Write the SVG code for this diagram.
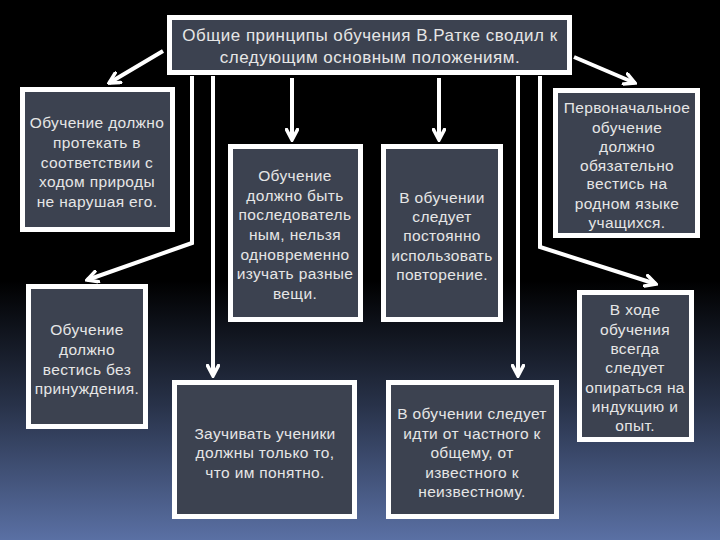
<svg xmlns="http://www.w3.org/2000/svg" width="720" height="540" viewBox="0 0 720 540">
<defs>
<linearGradient id="bg" x1="0" y1="0" x2="0" y2="1">
<stop offset="0" stop-color="#000000"/>
<stop offset="0.52" stop-color="#000000"/>
<stop offset="0.75" stop-color="#283249"/>
<stop offset="1" stop-color="#5a70a4"/>
</linearGradient>
<marker id="arr" viewBox="0 0 14 14" markerWidth="14" markerHeight="14" refX="12" refY="7" orient="auto" markerUnits="userSpaceOnUse">
<path d="M1.5,1.5 L12,7 L1.5,12.5" fill="none" stroke="#ffffff" stroke-width="3.5" stroke-linecap="round" stroke-linejoin="miter"/>
</marker>
<style>
.box{fill:#3c4250;stroke:#ffffff;stroke-width:5}
.t{font-family:"Liberation Sans",Arial,sans-serif;font-size:15.5px;letter-spacing:0.35px;fill:#e6e6e6;text-anchor:middle}
.tt{font-family:"Liberation Sans",Arial,sans-serif;font-size:17px;letter-spacing:0.5px;fill:#e6e6e6;text-anchor:middle}
.c{fill:none;stroke:#ffffff;stroke-width:4;marker-end:url(#arr)}
</style>
</defs>
<rect width="720" height="540" fill="url(#bg)"/>
<g id="connectors">
<path class="c" d="M163,51 L109,83"/>
<path class="c" d="M192,76 L192,243 L87,280"/>
<path class="c" d="M213,76 L213,376"/>
<path class="c" d="M292,78 L292,140"/>
<path class="c" d="M439,78 L439,140"/>
<path class="c" d="M518,76 L518,376"/>
<path class="c" d="M540,76 L540,247 L656,284"/>
<path class="c" d="M574,57 L635,83"/>
</g>
<g id="title">
<rect class="box" x="169.5" y="17.5" width="400" height="55"/>
<text class="tt" x="370" y="41">Общие принципы обучения В.Ратке сводил к</text>
<text class="tt" x="370" y="63">следующим основным положениям.</text>
</g>
<g id="n1">
<rect class="box" x="22.5" y="89.5" width="150" height="140"/>
<text class="t" x="97" y="128">Обучение должно</text>
<text class="t" x="97" y="148">протекать в</text>
<text class="t" x="97" y="168">соответствии с</text>
<text class="t" x="97" y="187">ходом природы</text>
<text class="t" x="97" y="207">не нарушая его.</text>
</g>
<g id="n2">
<rect class="box" x="230.5" y="146.5" width="130" height="173"/>
<text class="t" x="295" y="181">Обучение</text>
<text class="t" x="295" y="201">должно быть</text>
<text class="t" x="295" y="220">последователь</text>
<text class="t" x="295" y="240">ным, нельзя</text>
<text class="t" x="295" y="260">одновременно</text>
<text class="t" x="295" y="279">изучать разные</text>
<text class="t" x="295" y="299">вещи.</text>
</g>
<g id="n3">
<rect class="box" x="383.5" y="146.5" width="117" height="173"/>
<text class="t" x="442" y="203">В обучении</text>
<text class="t" x="442" y="222">следует</text>
<text class="t" x="442" y="241">постоянно</text>
<text class="t" x="442" y="261">использовать</text>
<text class="t" x="442" y="280">повторение.</text>
</g>
<g id="n4">
<rect class="box" x="555.5" y="90.5" width="142" height="145"/>
<text class="t" x="627" y="113">Первоначальное</text>
<text class="t" x="627" y="133">обучение</text>
<text class="t" x="627" y="152">должно</text>
<text class="t" x="627" y="171">обязательно</text>
<text class="t" x="627" y="189">вестись на</text>
<text class="t" x="627" y="209">родном языке</text>
<text class="t" x="627" y="228">учащихся.</text>
</g>
<g id="n5">
<rect class="box" x="28.5" y="286.5" width="117" height="140"/>
<text class="t" x="87" y="335">Обучение</text>
<text class="t" x="87" y="355">должно</text>
<text class="t" x="87" y="375">вестись без</text>
<text class="t" x="87" y="394">принуждения.</text>
</g>
<g id="n6">
<rect class="box" x="174.5" y="382.5" width="180" height="134"/>
<text class="t" x="265" y="439">Заучивать ученики</text>
<text class="t" x="265" y="458">должны только то,</text>
<text class="t" x="265" y="478">что им понятно.</text>
</g>
<g id="n7">
<rect class="box" x="388.5" y="382.5" width="168" height="134"/>
<text class="t" x="472" y="419">В обучении следует</text>
<text class="t" x="472" y="439">идти от частного к</text>
<text class="t" x="472" y="458">общему, от</text>
<text class="t" x="472" y="478">известного к</text>
<text class="t" x="472" y="497">неизвестному.</text>
</g>
<g id="n8">
<rect class="box" x="579.5" y="292.5" width="112" height="147"/>
<text class="t" x="635" y="315">В ходе</text>
<text class="t" x="635" y="335">обучения</text>
<text class="t" x="635" y="354">всегда</text>
<text class="t" x="635" y="373">следует</text>
<text class="t" x="635" y="393">опираться на</text>
<text class="t" x="635" y="412">индукцию и</text>
<text class="t" x="635" y="431">опыт.</text>
</g>
</svg>
